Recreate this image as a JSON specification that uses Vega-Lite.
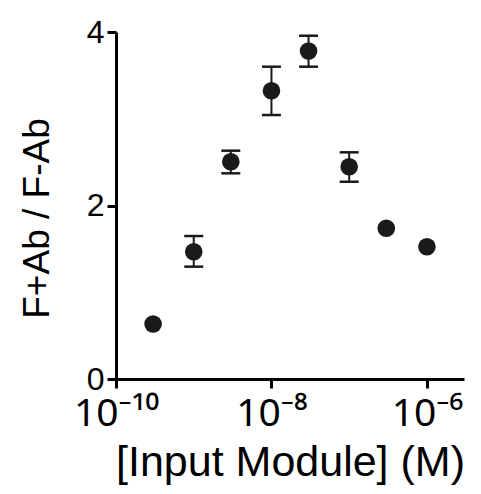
{
  "$schema": "https://vega.github.io/schema/vega-lite/v6.json",
  "width": 348,
  "height": 347,
  "autosize": {"type": "none"},
  "padding": {"left": 116, "top": 32, "right": 17, "bottom": 115},
  "background": "white",
  "config": {
    "view": {"stroke": null},
    "font": "Liberation Sans",
    "axis": {
      "grid": false,
      "domainColor": "black",
      "domainWidth": 3,
      "tickColor": "black",
      "tickWidth": 3,
      "tickSize": 9,
      "labelColor": "black",
      "titleColor": "black",
      "labelFont": "Liberation Sans",
      "titleFont": "Liberation Sans",
      "titleFontWeight": "normal"
    }
  },
  "data": {
    "values": [
      {"conc": 3e-10, "ratio": 0.634, "lo": null, "hi": null},
      {"conc": 1e-9, "ratio": 1.467, "lo": 1.295, "hi": 1.648},
      {"conc": 3e-9, "ratio": 2.505, "lo": 2.371, "hi": 2.632},
      {"conc": 1e-8, "ratio": 3.323, "lo": 3.043, "hi": 3.6},
      {"conc": 3e-8, "ratio": 3.781, "lo": 3.6, "hi": 3.957},
      {"conc": 1e-7, "ratio": 2.447, "lo": 2.274, "hi": 2.613},
      {"conc": 3e-7, "ratio": 1.737, "lo": null, "hi": null},
      {"conc": 1e-6, "ratio": 1.525, "lo": null, "hi": null}
    ]
  },
  "encoding": {
    "x": {
      "field": "conc",
      "type": "quantitative",
      "scale": {"type": "log", "domain": [1e-10, 3e-6], "nice": false},
      "axis": {
        "values": [1e-10, 1e-8, 1e-6],
        "labelExpr": "round(log(datum.value)/LN10) == -10 ? '10⁻¹⁰' : round(log(datum.value)/LN10) == -8 ? '10⁻⁸' : '10⁻⁶'",
        "labelFont": "Noto Sans",
        "labelFontSize": 39,
        "labelPadding": 6,
        "labelFlush": false,
        "labelOverlap": false,
        "title": "[Input Module] (M)",
        "titleFontSize": 43,
        "titlePadding": 8
      }
    }
  },
  "layer": [
    {
      "transform": [{"filter": "isValid(datum.lo)"}],
      "mark": {"type": "rule", "color": "#1a1a1a", "strokeWidth": 2},
      "encoding": {
        "y": {"field": "lo", "type": "quantitative"},
        "y2": {"field": "hi"}
      }
    },
    {
      "transform": [{"filter": "isValid(datum.lo)"}],
      "mark": {"type": "tick", "orient": "horizontal", "color": "#1a1a1a", "size": 19, "thickness": 2.5, "opacity": 1},
      "encoding": {
        "y": {"field": "lo", "type": "quantitative"}
      }
    },
    {
      "transform": [{"filter": "isValid(datum.lo)"}],
      "mark": {"type": "tick", "orient": "horizontal", "color": "#1a1a1a", "size": 19, "thickness": 2.5, "opacity": 1},
      "encoding": {
        "y": {"field": "hi", "type": "quantitative"}
      }
    },
    {
      "mark": {"type": "circle", "color": "#1a1a1a", "opacity": 1, "size": 310},
      "encoding": {
        "y": {
          "field": "ratio",
          "type": "quantitative",
          "scale": {"domain": [0, 4], "nice": false, "zero": true},
          "axis": {
            "values": [0, 2, 4],
            "format": "d",
            "labelFontSize": 32,
            "labelPadding": 3,
            "labelFlush": false,
            "labelOverlap": false,
            "title": "F+Ab / F-Ab",
            "titleFontSize": 37,
            "titlePadding": 30,
            "titleY": 186
          }
        }
      }
    }
  ]
}
